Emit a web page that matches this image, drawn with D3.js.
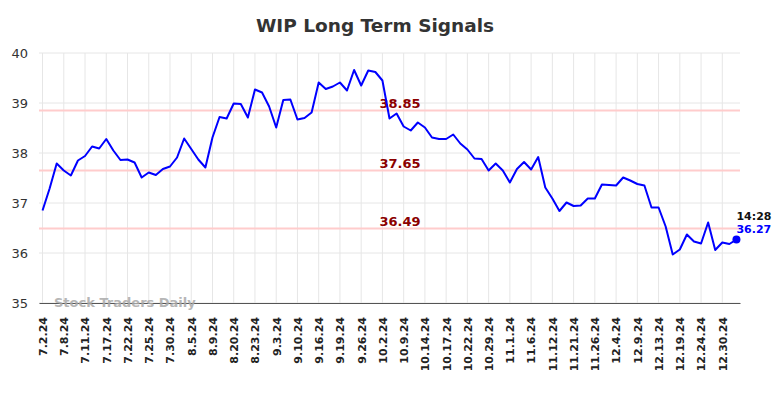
<!DOCTYPE html>
<html>
<head>
<meta charset="utf-8">
<script src="https://cdn.jsdelivr.net/npm/d3@7"></script>
<style>
  body { margin: 0; background: #fff; }
  svg { font-family: "DejaVu Sans", sans-serif; display: block; }
</style>
</head>
<body>
<div class="chart"></div>
<script>
// tick labels, one every 3 points
const tickLabels = ["7.2.24", "7.8.24", "7.11.24", "7.17.24", "7.22.24", "7.25.24", "7.30.24",
  "8.5.24", "8.9.24", "8.20.24", "8.23.24", "9.3.24", "9.10.24", "9.16.24", "9.19.24",
  "9.26.24", "10.2.24", "10.9.24", "10.14.24", "10.17.24", "10.22.24", "10.29.24",
  "11.1.24", "11.6.24", "11.12.24", "11.21.24", "11.26.24", "12.4.24", "12.9.24",
  "12.13.24", "12.19.24", "12.24.24", "12.30.24"];

const prices = [
  36.85, 37.29, 37.79, 37.65, 37.55, 37.85, 37.94, 38.13, 38.09, 38.28,
  38.05, 37.86, 37.87, 37.81, 37.51, 37.61, 37.56, 37.68, 37.73, 37.91,
  38.29, 38.08, 37.87, 37.71, 38.31, 38.72, 38.69, 38.99, 38.98, 38.71,
  39.27, 39.21, 38.93, 38.51, 39.06, 39.07, 38.67, 38.70, 38.81, 39.41,
  39.28, 39.33, 39.41, 39.25, 39.66, 39.35, 39.65, 39.62, 39.45, 38.69,
  38.79, 38.53, 38.45, 38.61, 38.51, 38.31, 38.28, 38.28, 38.37, 38.19,
  38.07, 37.89, 37.88, 37.65, 37.79, 37.65, 37.41, 37.68, 37.82, 37.67,
  37.92, 37.31, 37.09, 36.84, 37.01, 36.94, 36.95, 37.09, 37.09, 37.37,
  37.36, 37.35, 37.51, 37.45, 37.38, 37.35, 36.91, 36.91, 36.53, 35.97,
  36.07, 36.37, 36.23, 36.19, 36.61, 36.06, 36.21, 36.18, 36.27];

const levels = [38.85, 37.65, 36.49];
const yTicks = [35, 36, 37, 38, 39, 40];
const lastTime = "14:28";

const width = 784, height = 398;
const margin = { top: 53, right: 44, bottom: 95, left: 39 };

const svg = d3.select(".chart").append("svg")
  .attr("width", width)
  .attr("height", height);

const x = d3.scaleLinear()
  .domain([-0.5, prices.length - 0.5])
  .range([margin.left, width - margin.right]);

const y = d3.scaleLinear()
  .domain([35, 40])
  .range([height - margin.bottom, margin.top]);

// title
svg.append("text")
  .attr("x", 375)
  .attr("y", 32)
  .attr("text-anchor", "middle")
  .attr("font-size", 18.5)
  .attr("font-weight", "bold")
  .attr("fill", "#333")
  .text("WIP Long Term Signals");

// grid
const tickIdx = tickLabels.map((d, i) => i * 3);

svg.append("g")
  .selectAll("line")
  .data(yTicks)
  .join("line")
  .attr("x1", margin.left)
  .attr("x2", width - margin.right)
  .attr("y1", d => y(d))
  .attr("y2", d => y(d))
  .attr("stroke", "#e6e6e6")
  .attr("stroke-width", 1);

svg.append("g")
  .selectAll("line")
  .data(tickIdx)
  .join("line")
  .attr("x1", d => x(d))
  .attr("x2", d => x(d))
  .attr("y1", margin.top)
  .attr("y2", height - margin.bottom)
  .attr("stroke", "#e6e6e6")
  .attr("stroke-width", 1);

// y labels
svg.append("g")
  .selectAll("text")
  .data(yTicks)
  .join("text")
  .attr("x", 28)
  .attr("y", d => y(d) + 5)
  .attr("text-anchor", "end")
  .attr("font-size", 13)
  .attr("fill", "#333")
  .text(d => d);

// x axis
const xAxis = d3.axisBottom(x)
  .tickValues(tickIdx)
  .tickFormat((d, i) => tickLabels[i])
  .tickSize(0);

const gx = svg.append("g")
  .attr("transform", "translate(0," + (height - margin.bottom) + ")")
  .call(xAxis);

gx.select(".domain").attr("stroke", "#555").attr("stroke-width", 1.2);
gx.selectAll("text")
  .attr("font-family", "DejaVu Sans")
  .attr("font-size", 11)
  .attr("font-weight", "bold")
  .attr("fill", "#222")
  .attr("text-anchor", "end")
  .attr("transform", "rotate(-90)")
  .attr("x", -14)
  .attr("y", 0)
  .attr("dy", "0.35em");

// watermark
svg.append("text")
  .attr("x", 54)
  .attr("y", 307)
  .attr("font-size", 13)
  .attr("font-weight", "bold")
  .attr("fill", "#aaa")
  .attr("opacity", 0.85)
  .text("Stock Traders Daily");

// levels
svg.append("g")
  .selectAll("line")
  .data(levels)
  .join("line")
  .attr("x1", margin.left)
  .attr("x2", width - margin.right)
  .attr("y1", d => y(d))
  .attr("y2", d => y(d))
  .attr("stroke", "#ffcccc")
  .attr("stroke-width", 2);

svg.append("g")
  .selectAll("text")
  .data(levels)
  .join("text")
  .attr("x", 400)
  .attr("y", d => y(d) - 3)
  .attr("text-anchor", "middle")
  .attr("font-size", 13)
  .attr("font-weight", "bold")
  .attr("fill", "#8b0000")
  .text(d => d.toFixed(2));

// price line
const line = d3.line()
  .x((d, i) => x(i))
  .y(d => y(d));

svg.append("path")
  .datum(prices)
  .attr("fill", "none")
  .attr("stroke", "#0000ff")
  .attr("stroke-width", 2)
  .attr("stroke-linejoin", "round")
  .attr("d", line);

// last point
const lastI = prices.length - 1;
svg.append("circle")
  .attr("cx", x(lastI))
  .attr("cy", y(prices[lastI]))
  .attr("r", 4)
  .attr("fill", "#0000ff");

svg.append("text")
  .attr("x", x(lastI))
  .attr("y", y(prices[lastI]) - 20)
  .attr("font-size", 11)
  .attr("font-weight", "bold")
  .attr("fill", "#111")
  .text(lastTime);

svg.append("text")
  .attr("x", x(lastI))
  .attr("y", y(prices[lastI]) - 7)
  .attr("font-size", 11)
  .attr("font-weight", "bold")
  .attr("fill", "#0000ff")
  .text(prices[lastI].toFixed(2));
</script>
</body>
</html>
